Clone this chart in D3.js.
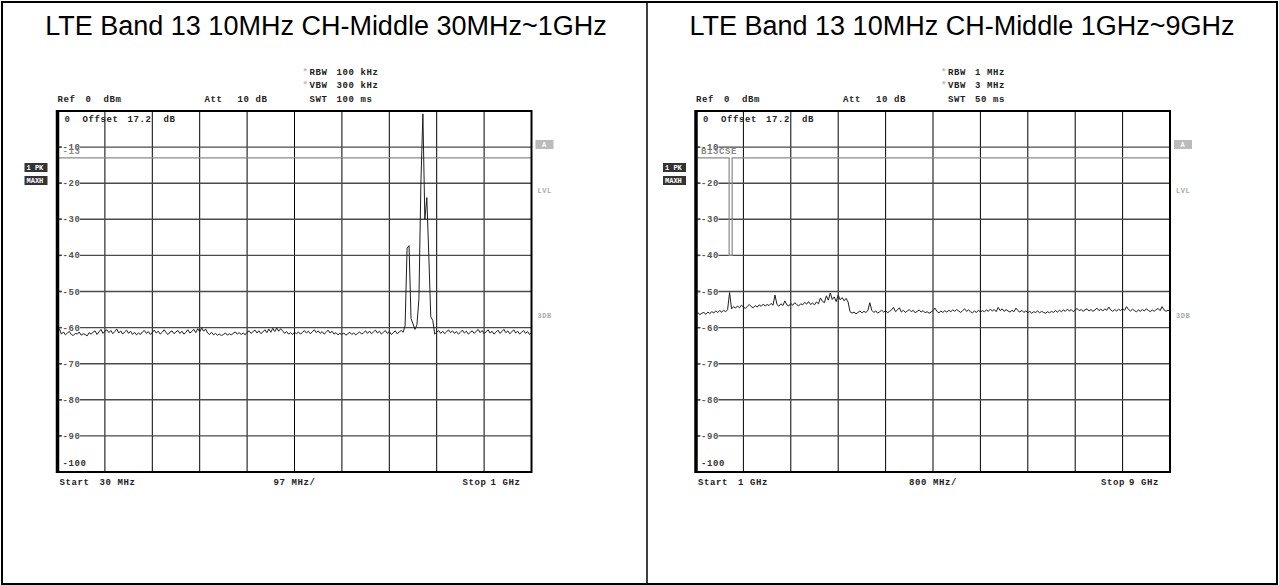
<!DOCTYPE html>
<html><head><meta charset="utf-8">
<script src="https://cdn.jsdelivr.net/npm/d3@7"></script>
<style>
body{margin:0;background:#fff}
svg{display:block}
.mono{font-family:'Liberation Mono','Courier New',monospace;font-weight:bold;letter-spacing:0.6px;font-size:9px}
.title{font-family:'Liberation Sans',Arial,sans-serif;font-size:27px;fill:#000}
</style></head>
<body><svg id="c" width="1279" height="585"></svg>
<script>
// ---------------- data ----------------
const panelTitles = ["LTE Band 13 10MHz CH-Middle 30MHz~1GHz", "LTE Band 13 10MHz CH-Middle 1GHz~9GHz"];
const sweepStartMHz = [30, 1000];
const sweepStopMHz = [1000, 9000];
const refLabels = ["0  dBm", "0  dBm"];
const attLabels = ["10 dB", "10 dB"];
const rbwLabels = ["100 kHz", "1 MHz"];
const vbwLabels = ["300 kHz", "3 MHz"];
const swtLabels = ["100 ms", "50 ms"];
const offsetLabel = "17.2  dB";
const startLabels = ["30 MHz", "1 GHz"];
const divLabels = ["97 MHz/", "800 MHz/"];
const stopLabels = ["1 GHz", "9 GHz"];
const levelTicks = [0, -10, -20, -30, -40, -50, -60, -70, -80, -90, -100];
const limitNames = ["-13", "B13CSE"];
const leftLimitFreq = [30, 1000];
const leftLimitLevel = [-13, -13];
const rightLimitFreq = [1000, 1559, 1559, 1610, 1610, 9000];
const rightLimitLevel = [-13, -13, -40, -40, -13, -13];

// max-hold trace, dBm, evenly spaced over the sweep (241 points)
const leftTrace = [
-61.0,-60.4,-61.8,-61.2,-62.0,-61.5,-61.1,-61.9,-62.2,-61.6,-61.8,-61.2,-62.1,-61.7,-61.9,-62.3,-61.4,-61.8,-61.3,-60.9,
-61.9,-61.2,-60.5,-61.6,-61.0,-60.6,-61.4,-60.8,-61.7,-61.1,-60.4,-61.5,-60.9,-61.8,-61.2,-60.7,-61.6,-61.0,-61.9,-61.3,
-62.0,-61.5,-61.9,-61.2,-60.8,-61.6,-61.1,-61.9,-61.4,-60.7,-61.5,-61.0,-61.8,-61.3,-60.6,-61.4,-61.9,-61.2,-60.9,-61.7,
-61.2,-60.8,-61.6,-61.0,-61.8,-61.3,-60.6,-61.5,-61.1,-60.5,-61.4,-60.3,-61.2,-60.1,-61.0,-60.4,-61.5,-61.9,-61.3,-62.0,
-61.6,-62.1,-61.8,-62.2,-61.9,-61.5,-62.1,-61.7,-62.0,-61.6,-61.2,-61.8,-61.4,-61.9,-61.5,-62.0,-61.3,-60.9,-61.6,-61.1,
-60.7,-61.5,-60.9,-61.7,-61.2,-60.6,-61.4,-60.4,-61.3,-60.2,-61.1,-60.1,-61.0,-60.3,-60.9,-61.6,-61.1,-61.8,-61.4,-61.9,
-61.3,-61.7,-61.2,-61.8,-61.4,-60.8,-61.5,-61.0,-61.7,-61.2,-60.6,-61.4,-60.9,-61.6,-61.1,-61.8,-61.3,-60.7,-61.5,-61.0,
-61.8,-61.4,-62.0,-61.6,-61.9,-61.5,-62.1,-61.7,-61.3,-61.9,-61.5,-62.0,-61.6,-61.2,-61.8,-61.4,-60.9,-61.6,-61.0,-61.7,
-61.2,-60.7,-61.5,-61.0,-61.8,-61.3,-60.8,-61.6,-61.1,-61.9,-61.4,-60.9,-61.7,-61.2,-60.8,-61.3,
-59.5,-38.0,-37.3,-57.5,-59.0,-60.5,-59.2,-52.0,-20.0,-0.8,-30.0,-24.0,-40.0,-57.0,-58.0,
-61.8,-61.3,-60.8,-61.6,-61.0,-61.7,-61.2,-60.6,-61.4,
-60.9,-61.6,-61.1,-61.8,-61.3,-60.7,-61.5,-61.0,-61.8,-61.3,-60.9,-61.6,-61.0,-60.5,-61.4,-60.8,-61.7,-61.2,-60.6,-61.5,
-61.0,-61.8,-61.3,-60.7,-61.6,-61.1,-60.5,-61.4,-60.9,-61.7,-61.2,-60.6,-61.5,-61.0,-61.8,-61.3,-60.8,-61.6,-61.1,-61.9,-61.4
];
const rightTrace = [
-56.2,-55.9,-56.4,-56.0,-55.8,-56.3,-55.7,-56.1,-55.6,-55.9,-55.4,-55.8,-55.3,-55.7,-55.2,-55.6,-55.0,
-50.3,
-54.8,-54.2,-54.6,-54.0,-54.5,-53.8,-54.3,-54.7,-54.1,-53.6,-54.2,-54.5,-53.9,-54.3,-53.7,-54.1,-53.5,-54.0,-53.6,-53.9,-53.3,-53.8,
-51.0,
-53.6,-54.1,-53.4,-53.9,-52.6,-53.7,-54.0,-53.3,-53.8,-53.1,-53.6,-54.0,-53.4,-53.7,-53.0,-53.5,-52.8,-53.6,-53.2,-53.7,
-52.9,-53.4,-51.8,-52.7,-53.1,-51.2,-52.4,-50.4,-52.2,-51.5,-52.8,-51.0,-52.3,-51.7,-52.6,-51.9,-52.9,
-55.6,
-56.0,-55.7,-56.2,-55.8,-55.4,-55.9,-55.5,-55.8,-55.3,-53.1,-55.2,-55.8,-55.4,-56.0,-55.6,-55.2,-55.7,-55.3,-55.9,-55.5,-55.1,
-54.4,-55.6,-55.1,-54.5,-55.7,-55.2,-55.8,-55.4,-55.0,-55.6,-55.2,-55.9,-55.5,-55.1,-55.7,-55.3,-55.9,-55.6,-56.0,-55.7,
-55.3,-54.6,-55.5,-55.9,-55.4,-55.8,-55.3,-55.7,-55.2,-55.6,-55.1,-55.5,-55.0,-55.4,-55.8,-55.3,-54.8,-55.5,-55.1,-55.6,
-55.9,-55.4,-55.8,-55.2,-55.7,-55.3,-55.6,-55.1,-55.5,-54.9,-55.4,-55.0,-55.6,-54.4,-55.3,-54.8,-55.5,-55.0,-55.4,-55.7,
-55.2,-55.6,-54.6,-55.3,-55.7,-55.2,-55.8,-55.4,-55.9,-55.5,-56.0,-55.6,-55.8,-55.4,-55.9,-55.5,-55.8,-56.0,-55.6,-55.9,
-55.5,-55.8,-55.3,-55.7,-55.2,-55.6,-55.1,-55.5,-54.9,-55.4,-55.0,-55.6,-55.1,-54.7,-55.3,-55.0,-55.5,-55.1,-54.8,-55.4,
-55.0,-55.5,-55.1,-54.6,-55.3,-54.9,-55.4,-54.8,-55.2,-54.3,-55.1,-55.5,-55.0,-55.4,-54.9,-55.3,-54.7,-55.2,-54.2,-55.0,
-55.4,-54.9,-55.3,-55.6,-55.1,-55.5,-55.0,-55.4,-54.8,-55.2,-55.6,-55.1,-55.5,-55.0,-54.7,-55.3,-54.2,-55.1,-55.5,-55.2,-55.4
];
const traces = [leftTrace, rightTrace];
const limitFreqs = [leftLimitFreq, rightLimitFreq];
const limitLevels = [leftLimitLevel, rightLimitLevel];

// ---------------- drawing ----------------
const svg = d3.select("#c");
const W = 1279, H = 585;

svg.append("rect").attr("x", 2).attr("y", 2).attr("width", W - 4).attr("height", H - 3)
  .attr("fill", "none").attr("stroke", "#000").attr("stroke-width", 2);
svg.append("line").attr("x1", 647).attr("x2", 647).attr("y1", 2).attr("y2", H)
  .attr("stroke", "#000").attr("stroke-width", 1.5);

const cellCenters = [326, 962];
const panelOffsets = [0, 638.5];

function mono(g, x, y, t, fill, anchor) {
  return g.append("text").attr("class", "mono").attr("x", x).attr("y", y)
    .attr("fill", fill || "#222").attr("text-anchor", anchor || "start")
    .attr("xml:space", "preserve").text(t);
}

panelTitles.forEach((title, p) => {
  svg.append("text").attr("class", "title").attr("x", cellCenters[p]).attr("y", 35)
    .attr("text-anchor", "middle").text(title);

  const ox = panelOffsets[p];
  const X0 = 57.5 + ox, X1 = 531.5 + ox, Y0 = 111, Y1 = 472;
  const start = sweepStartMHz[p], stop = sweepStopMHz[p];
  const x = d3.scaleLinear().domain([start, stop]).range([X0, X1]);
  const y = d3.scaleLinear().domain([-100, 0]).range([Y1, Y0]);
  const tr = traces[p];
  const idx = d3.scaleLinear().domain([0, tr.length - 1]).range([start, stop]);
  const g = svg.append("g");

  // header
  mono(g, X0, 102, "Ref");
  mono(g, X0 + 28, 102, refLabels[p]);
  mono(g, X0 + 147, 102, "Att");
  mono(g, X0 + 180, 102, attLabels[p]);
  mono(g, X0 + 245, 75, "*", "#bbb");
  mono(g, X0 + 252, 75, "RBW");
  mono(g, X0 + 279, 75, rbwLabels[p]);
  mono(g, X0 + 245, 88, "*", "#bbb");
  mono(g, X0 + 252, 88, "VBW");
  mono(g, X0 + 279, 88, vbwLabels[p]);
  mono(g, X0 + 252, 102, "SWT");
  mono(g, X0 + 279, 102, swtLabels[p]);

  const cid = "clip" + p;
  svg.append("clipPath").attr("id", cid).append("rect")
    .attr("x", X0).attr("y", Y0).attr("width", X1 - X0).attr("height", Y1 - Y0);

  // vertical grid
  const vticks = d3.range(1, 10).map(k => start + k * (stop - start) / 10);
  g.selectAll(null).data(vticks).enter().append("line")
    .attr("x1", d => x(d)).attr("x2", d => x(d)).attr("y1", Y0).attr("y2", Y1)
    .attr("stroke", "#000").attr("stroke-width", 1);

  // horizontal grid
  const hticks = levelTicks.filter(v => v < 0 && v > -100);
  g.selectAll(null).data(hticks).enter().append("line")
    .attr("x1", X0).attr("x2", X1).attr("y1", d => y(d)).attr("y2", d => y(d))
    .attr("stroke", "#4a4a4a").attr("stroke-width", 1.4);

  // limit / display line
  const lf = limitFreqs[p], ll = limitLevels[p];
  g.append("path").attr("clip-path", `url(#${cid})`)
    .attr("d", d3.line().x((d, i) => x(lf[i])).y((d, i) => y(ll[i]))(lf))
    .attr("fill", "none").attr("stroke", "#8a8a8a").attr("stroke-width", 1.2);

  // level labels
  hticks.forEach(v => {
    const yy = y(v);
    g.append("line").attr("x1", X0).attr("x2", X0 + 4).attr("y1", yy).attr("y2", yy)
      .attr("stroke", "#4a4a4a").attr("stroke-width", 1.4);
    g.append("rect").attr("x", X0 + 4.5).attr("y", yy - 4).attr("width", 18).attr("height", 8).attr("fill", "#fff");
    mono(g, X0 + 5, yy + 3, String(v), "#555");
  });
  mono(g, X0 + 7, Y0 + 11, String(levelTicks[0]), "#333");
  mono(g, X0 + 5, Y1 - 6, String(levelTicks[levelTicks.length - 1]), "#333");
  mono(g, X0 + 5, y(-10) + 7, limitNames[p], "#888");

  mono(g, X0 + 25, Y0 + 11, "Offset");
  mono(g, X0 + 70, Y0 + 11, offsetLabel);

  // trace
  g.append("path").attr("clip-path", `url(#${cid})`)
    .attr("d", d3.line().x((d, i) => x(idx(i))).y(d => y(d))(tr))
    .attr("fill", "none").attr("stroke", "#1e1e1e").attr("stroke-width", 1);

  // frame
  g.append("rect").attr("x", X0).attr("y", Y0).attr("width", X1 - X0).attr("height", Y1 - Y0)
    .attr("fill", "none").attr("stroke", "#000").attr("stroke-width", 2);
  g.append("line").attr("x1", X0).attr("x2", X0).attr("y1", Y0 - 1).attr("y2", Y1 + 1)
    .attr("stroke", "#000").attr("stroke-width", 3.5);

  // side boxes
  g.append("rect").attr("x", X0 - 33).attr("y", 163).attr("width", 23).attr("height", 9).attr("fill", "#333");
  g.append("text").attr("class", "mono").attr("x", X0 - 31).attr("y", 170).attr("fill", "#fff")
    .style("font-size", "7px").style("letter-spacing", "0px").attr("xml:space", "preserve").text("1 PK");
  g.append("rect").attr("x", X0 - 33).attr("y", 176).attr("width", 23).attr("height", 9).attr("fill", "#333");
  g.append("text").attr("class", "mono").attr("x", X0 - 31).attr("y", 183).attr("fill", "#fff")
    .style("font-size", "7px").style("letter-spacing", "0px").text("MAXH");

  g.append("rect").attr("x", X1 + 4).attr("y", 140).attr("width", 18).attr("height", 9).attr("fill", "#bbb");
  g.append("text").attr("class", "mono").attr("x", X1 + 13).attr("y", 147).attr("fill", "#fff")
    .attr("text-anchor", "middle").style("font-size", "7px").text("A");
  g.append("text").attr("class", "mono").attr("x", X1 + 6).attr("y", 193).attr("fill", "#aaa")
    .style("font-size", "7px").style("letter-spacing", "0.5px").text("LVL");
  g.append("text").attr("class", "mono").attr("x", X1 + 6).attr("y", 318).attr("fill", "#aaa")
    .style("font-size", "7px").style("letter-spacing", "0.5px").text("3DB");

  // footer
  mono(g, X0 + 2, 485, "Start");
  mono(g, X0 + 42, 485, startLabels[p]);
  mono(g, (X0 + X1) / 2, 485, divLabels[p], "#222", "middle");
  mono(g, X1 - 69, 485, "Stop");
  mono(g, X1 - 41, 485, stopLabels[p]);
});
</script></body></html>
